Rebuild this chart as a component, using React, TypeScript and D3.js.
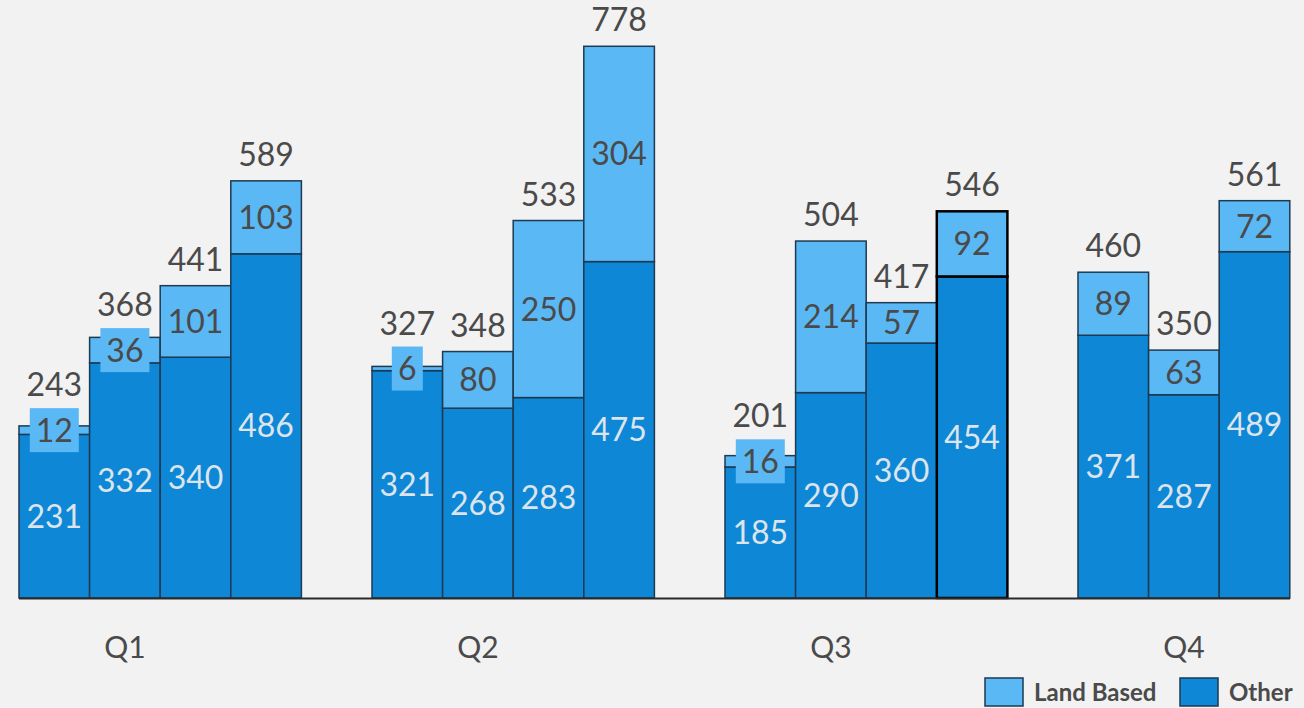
import React from "react";
import * as d3 from "d3";

const quarters = ["Q1", "Q2", "Q3", "Q4"];
const otherValues = [
  [231, 332, 340, 486],
  [321, 268, 283, 475],
  [185, 290, 360, 454],
  [371, 287, 489],
];
const landValues = [
  [12, 36, 101, 103],
  [6, 80, 250, 304],
  [16, 214, 57, 92],
  [89, 63, 72],
];
const totalLabels = [
  [243, 368, 441, 589],
  [327, 348, 533, 778],
  [201, 504, 417, 546],
  [460, 350, 561],
];
const legendItems = ["Land Based", "Other"];

const W = 1304;
const H = 708;
const LIGHT = "#5ab8f5";
const DARK = "#0e87d6";
const TEXT = "#4a4a4a";
const FONT = "Lato, 'Open Sans', sans-serif";

export default function App() {
  const slotsPerGroup = 5;
  const totalSlots = 3 * slotsPerGroup + otherValues[3].length;
  const x = d3.scaleLinear().domain([0, totalSlots]).range([19, 1289.8]);
  const bw = x(1) - x(0);
  const y = d3.scaleLinear().domain([0, 778]).range([598, 47]);

  const bars: any[] = [];
  quarters.forEach((q, gi) => {
    otherValues[gi].forEach((ov, bi) => {
      const lv = landValues[gi][bi];
      const slot = gi * slotsPerGroup + bi;
      bars.push({ gi, bi, slot, ov, lv, total: totalLabels[gi][bi] });
    });
  });

  return (
    <svg
      width={W}
      height={H}
      style={{ position: "absolute", left: 0, top: 0, background: "#f2f2f2" }}
      fontFamily={FONT}
    >
      <rect x={0} y={0} width={W} height={H} fill="#f2f2f2" />
      {bars.map((b, i) => {
        const x0 = x(b.slot);
        const special = b.gi === 2 && b.bi === 3;
        const stroke = special ? "#000" : "#1d3a52";
        const sw = special ? 2.5 : 1.5;
        return (
          <g key={"b" + i}>
            <rect x={x0} y={y(b.ov)} width={bw} height={y(0) - y(b.ov)} fill={DARK} stroke={stroke} strokeWidth={sw} />
            <rect x={x0} y={y(b.ov + b.lv)} width={bw} height={y(b.ov) - y(b.ov + b.lv)} fill={LIGHT} stroke={stroke} strokeWidth={sw} />
          </g>
        );
      })}
      <line x1={19} x2={1290} y1={598.5} y2={598.5} stroke="#2a2a2a" strokeWidth={2} />
      {bars.map((b, i) => {
        const cx = x(b.slot) + bw / 2;
        const segH = y(b.ov) - y(b.ov + b.lv);
        const cyLand = (y(b.ov) + y(b.ov + b.lv)) / 2;
        const cyOther = (y(0) + y(b.ov)) / 2;
        const txt = String(b.lv);
        const boxW = txt.length * 18 + 13;
        const hasBox = segH < 35;
        const boxTop = cyLand - 22;
        const totalY = hasBox ? Math.min(boxTop - 12, y(b.ov + b.lv) - 15) : y(b.ov + b.lv) - 15;
        return (
          <g key={"l" + i} fontSize={32}>
            {hasBox && (
              <rect x={cx - boxW / 2} y={boxTop} width={boxW} height={44} fill={LIGHT} />
            )}
            <text x={cx} y={cyLand} dy="0.36em" textAnchor="middle" fill={TEXT}>{txt}</text>
            <text x={cx} y={cyOther} dy="0.36em" textAnchor="middle" fill="#dce4ec">{b.ov}</text>
            <text x={cx} y={totalY} textAnchor="middle" fill={TEXT}>{b.total}</text>
          </g>
        );
      })}
      {quarters.map((q, gi) => (
        <text key={q} x={x(gi * slotsPerGroup) + bw * 1.5} y={647} dy="0.36em" textAnchor="middle" fontSize={30} fill={TEXT}>{q}</text>
      ))}
      {legendItems.map((name, i) => {
        const lx = [985, 1180][i];
        return (
          <g key={name}>
            <rect x={lx} y={678} width={38} height={28} fill={i === 0 ? LIGHT : DARK} stroke="#1d3a52" strokeWidth={1.5} />
            <text x={lx + 49} y={692} dy="0.36em" fontSize={24} fontWeight="bold" fill={TEXT}>{name}</text>
          </g>
        );
      })}
    </svg>
  );
}
